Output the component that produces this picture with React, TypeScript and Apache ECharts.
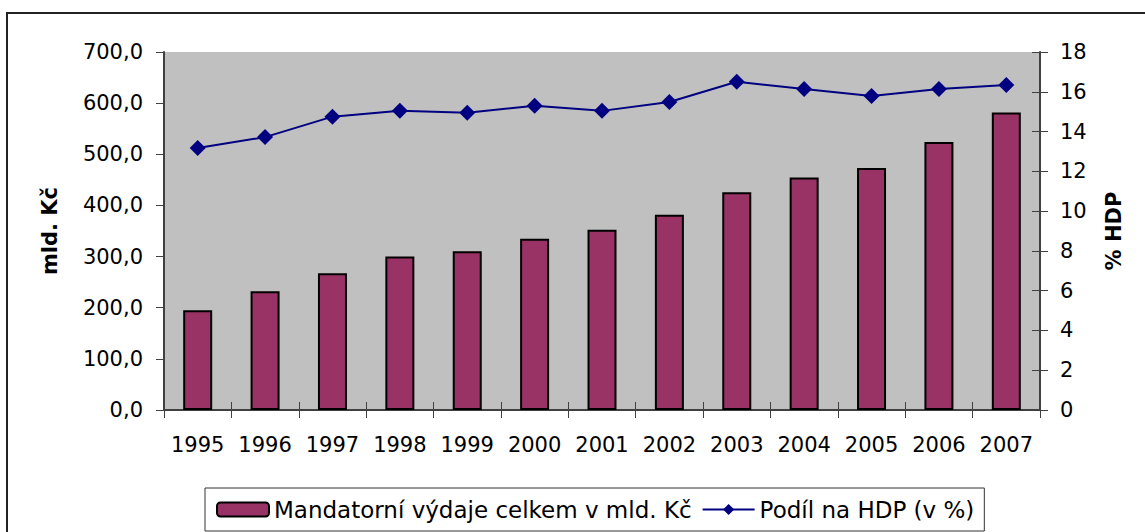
import React, { useEffect, useRef } from "react";
import * as echarts from "echarts";

const years = ["1995", "1996", "1997", "1998", "1999", "2000", "2001", "2002", "2003", "2004", "2005", "2006", "2007"];
const spending = [195.2, 232.2, 267.4, 300.0, 310.3, 335.0, 352.6, 382.0, 426.0, 454.7, 473.0, 523.8, 581.6];
const gdpShare = [13.17, 13.72, 14.75, 15.04, 14.95, 15.3, 15.04, 15.49, 16.5, 16.14, 15.79, 16.14, 16.34];
const barName = "Mandatorní výdaje celkem v mld. Kč";
const lineName = "Podíl na HDP (v %)";
const leftAxisName = "mld. Kč";
const rightAxisName = "% HDP";

const FONT = "DejaVu Sans";
const AXIS_COLOR = "#404040";

export default function App() {
  const ref = useRef<HTMLDivElement>(null);
  useEffect(() => {
    if (!ref.current) return;
    const chart = echarts.init(ref.current, null, { renderer: "svg" });
    chart.setOption({
      animation: false,
      textStyle: { fontFamily: FONT, color: "#000" },
      graphic: [
        {
          type: "rect",
          shape: { x: 7, y: 13, width: 1200, height: 600 },
          style: { fill: "none", stroke: "#222", lineWidth: 2 },
          silent: true,
        },
      ],
      grid: {
        left: 164,
        right: 105,
        top: 52,
        bottom: 122,
        show: true,
        backgroundColor: "#C0C0C0",
        borderWidth: 0,
      },
      legend: {
        left: 205,
        top: 488,
        padding: [10, 10, 10, 11],
        borderColor: "#333",
        borderWidth: 1,
        itemWidth: 52,
        itemHeight: 14,
        itemGap: 10,
        textStyle: { fontFamily: FONT, fontSize: 23, color: "#000" },
        data: [barName, lineName],
      },
      xAxis: [
        {
          type: "category",
          data: years,
          axisLine: { lineStyle: { color: AXIS_COLOR, width: 2 } },
          axisTick: { show: true, length: 8, lineStyle: { color: AXIS_COLOR, width: 1 } },
          axisLabel: { interval: 0, fontFamily: FONT, fontSize: 21, color: "#000", margin: 24 },
        },
        {
          type: "category",
          data: years,
          position: "bottom",
          axisLine: { show: false },
          axisTick: { show: true, inside: true, length: 8, lineStyle: { color: AXIS_COLOR, width: 1 } },
          axisLabel: { show: false },
        },
      ],
      yAxis: [
        {
          type: "value",
          min: 0,
          max: 700,
          interval: 100,
          position: "left",
          name: leftAxisName,
          nameLocation: "middle",
          nameRotate: 90,
          nameGap: 104,
          nameTextStyle: { fontFamily: FONT, fontSize: 21, fontWeight: "bold", color: "#000" },
          splitLine: { show: false },
          axisLine: { show: true, lineStyle: { color: AXIS_COLOR, width: 2 } },
          axisTick: { show: true, length: 8, lineStyle: { color: AXIS_COLOR, width: 1 } },
          axisLabel: {
            fontFamily: FONT,
            fontSize: 21,
            color: "#000",
            margin: 21,
            formatter: (v: number) => v.toFixed(1).replace(".", ","),
          },
        },
        {
          type: "value",
          min: 0,
          max: 18,
          interval: 2,
          position: "right",
          name: rightAxisName,
          nameLocation: "middle",
          nameRotate: 90,
          nameGap: 63,
          nameTextStyle: { fontFamily: FONT, fontSize: 21, fontWeight: "bold", color: "#000" },
          splitLine: { show: false },
          axisLine: { show: true, lineStyle: { color: AXIS_COLOR, width: 2 } },
          axisTick: { show: true, length: 8, lineStyle: { color: AXIS_COLOR, width: 1 } },
          axisLabel: { fontFamily: FONT, fontSize: 21, color: "#000", margin: 20 },
        },
        {
          type: "value",
          min: 0,
          max: 18,
          interval: 2,
          position: "right",
          splitLine: { show: false },
          axisLine: { show: false },
          axisTick: { show: true, inside: true, length: 8, lineStyle: { color: AXIS_COLOR, width: 1 } },
          axisLabel: { show: false },
        },
      ],
      series: [
        {
          name: barName,
          type: "bar",
          data: spending,
          xAxisIndex: 0,
          yAxisIndex: 0,
          barWidth: 29,
          itemStyle: { color: "#993366", borderColor: "#000", borderWidth: 2 },
        },
        {
          name: lineName,
          type: "line",
          data: gdpShare,
          xAxisIndex: 0,
          yAxisIndex: 1,
          symbol: "diamond",
          symbolSize: 16,
          lineStyle: { color: "#000080", width: 2 },
          itemStyle: { color: "#000080" },
        },
      ],
    });
    return () => chart.dispose();
  }, []);
  return (
    <div
      ref={ref}
      style={{ position: "fixed", left: 0, top: 0, width: 1145, height: 532, background: "#fff" }}
    />
  );
}
